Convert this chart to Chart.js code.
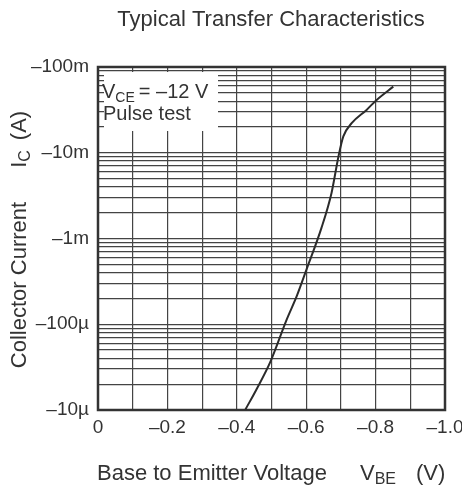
<!DOCTYPE html>
<html>
<head>
<meta charset="utf-8">
<script src="https://cdn.jsdelivr.net/npm/chart.js@4"></script>
<style>
html, body { margin: 0; padding: 0; background: #fff; }
#wrap { width: 462px; height: 489px; }
</style>
</head>
<body>
<div id="wrap"><canvas id="c"></canvas></div>
<script>
// base to emitter voltage (V), PNP so negative
const vbe = [-0.424, -0.457, -0.496, -0.544, -0.573, -0.601, -0.644, -0.673, -0.693, -0.707, -0.731, -0.774, -0.803, -0.851];
// collector current magnitude (A), plotted as -Ic
const icMag = [10e-6, 17.5e-6, 35.9e-6, 114e-6, 214e-6, 436e-6, 1.33e-3, 3.4e-3, 9.06e-3, 15.5e-3, 22.1e-3, 31.6e-3, 41.3e-3, 59e-3];

const xTickLabels = ['0', '\u20130.2', '\u20130.4', '\u20130.6', '\u20130.8', '\u20131.0'];
const yDecades = [1e-5, 1e-4, 1e-3, 1e-2, 1e-1];
const yTickLabels = ['\u201310\u00b5', '\u2013100\u00b5', '\u20131m', '\u201310m', '\u2013100m'];

const FONT = '"Liberation Sans", Arial, Helvetica, sans-serif';
const INK = '#333';

// draws a run of text pieces, some of them subscripts
function drawRich( ctx, parts, x, y )
{
    let cx = x;
    for( const p of parts )
    {
        ctx.font = p.size + 'px ' + FONT;
        ctx.fillText( p.t, cx, y + ( p.dy || 0 ));
        cx += ctx.measureText( p.t ).width + ( p.gap || 0 );
    }
    return cx;
}

function richWidth( ctx, parts )
{
    let w = 0;
    for( const p of parts )
    {
        ctx.font = p.size + 'px ' + FONT;
        w += ctx.measureText( p.t ).width + ( p.gap || 0 );
    }
    return w;
}

const decor = {
    id : 'decor',
    beforeDatasetsDraw( chart )
    {
        const ctx = chart.ctx;
        const a = chart.chartArea;
        ctx.save();
        // condition box, blanks the grid behind it
        ctx.fillStyle = '#fff';
        ctx.fillRect( a.left + 6, a.top + 5, 114, 59 );
        ctx.fillStyle = INK;
        ctx.textBaseline = 'alphabetic';
        drawRich( ctx, [
            { t : 'V', size : 20 },
            { t : 'CE', size : 14, dy : 4, gap : 4 },
            { t : '= \u201312 V', size : 20 },
        ], a.left + 4, a.top + 31 );
        drawRich( ctx, [{ t : 'Pulse test', size : 20 }], a.left + 5, a.top + 53 );
        // frame
        ctx.strokeStyle = INK;
        ctx.lineWidth = 2.5;
        ctx.strokeRect( a.left, a.top, a.right - a.left, a.bottom - a.top );
        ctx.restore();
    },
    afterDraw( chart )
    {
        const ctx = chart.ctx;
        const a = chart.chartArea;
        ctx.save();
        ctx.fillStyle = INK;
        ctx.textBaseline = 'alphabetic';
        // title
        ctx.font = '22px ' + FONT;
        ctx.textAlign = 'center';
        ctx.fillText( 'Typical Transfer Characteristics', 271, 26 );
        ctx.textAlign = 'left';
        // x title
        drawRich( ctx, [{ t : 'Base to Emitter Voltage', size : 22 }], 97, 480 );
        drawRich( ctx, [
            { t : 'V', size : 22 },
            { t : 'BE', size : 16, dy : 4 },
        ], 360, 480 );
        drawRich( ctx, [{ t : '(V)', size : 22 }], 416, 480 );
        // y title
        const yParts = [
            { t : 'Collector Current', size : 22, gap : 34 },
            { t : 'I', size : 22 },
            { t : 'C', size : 16, dy : 4, gap : 10 },
            { t : '(A)', size : 22 },
        ];
        ctx.translate( 26, ( a.top + a.bottom ) / 2 + 1 );
        ctx.rotate( -Math.PI / 2 );
        drawRich( ctx, yParts, -richWidth( ctx, yParts ) / 2, 0 );
        ctx.restore();
    }
};

const points = vbe.map(( v, i ) => ({ x : v, y : icMag[ i ] }));

new Chart( document.getElementById( 'c' ), {
    type : 'line',
    data : {
        datasets : [{
            data : points,
            borderColor : '#2b2b2b',
            borderWidth : 2,
            pointRadius : 0,
            fill : false,
            cubicInterpolationMode : 'monotone',
        }]
    },
    options : {
        responsive : true,
        maintainAspectRatio : false,
        animation : false,
        layout : { padding : { top : 67, right : 17, left : 0, bottom : 0 } },
        plugins : {
            legend : { display : false },
            tooltip : { enabled : false },
            title : { display : false },
        },
        scales : {
            x : {
                type : 'linear',
                min : -1,
                max : 0,
                reverse : true,
                afterFit( s )
                {
                    s.height = 79;
                    s.paddingLeft = 0;
                    s.paddingRight = 0;
                },
                afterBuildTicks( s )
                {
                    const t = [];
                    for( let k = 0; k <= 10; k++ )
                        t.push({ value : -k / 10 });
                    s.ticks = t;
                },
                ticks : {
                    autoSkip : false,
                    maxRotation : 0,
                    padding : 6,
                    color : INK,
                    font : { family : FONT, size : 19 },
                    callback( v )
                    {
                        const k = Math.round( -v * 10 );
                        return k % 2 ? '' : xTickLabels[ k / 2 ];
                    },
                },
                grid : { color : '#444', lineWidth : 1.2, drawTicks : false },
                border : { display : false },
            },
            y : {
                type : 'logarithmic',
                min : yDecades[ 0 ],
                max : yDecades[ yDecades.length - 1 ],
                afterFit( s )
                {
                    s.width = 98;
                    s.paddingTop = 0;
                    s.paddingBottom = 0;
                },
                afterBuildTicks( s )
                {
                    const t = [];
                    for( let d = 0; d < yDecades.length - 1; d++ )
                        for( let m = 1; m < 10; m++ )
                            t.push({ value : yDecades[ d ] * m });
                    t.push({ value : yDecades[ yDecades.length - 1 ] });
                    s.ticks = t;
                },
                ticks : {
                    autoSkip : false,
                    padding : 9,
                    color : INK,
                    font : { family : FONT, size : 19 },
                    callback( v )
                    {
                        const i = yDecades.findIndex( d => Math.abs( d - v ) / d < 1e-6 );
                        return i < 0 ? '' : yTickLabels[ i ];
                    },
                },
                grid : { color : '#444', lineWidth : 1.2, drawTicks : false },
                border : { display : false },
            },
        },
    },
    plugins : [ decor ],
});
</script>
</body>
</html>
